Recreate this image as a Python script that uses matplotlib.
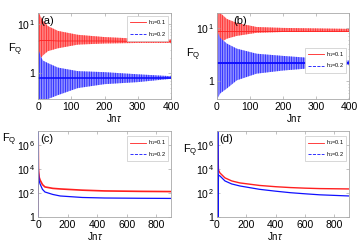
import numpy as np
import matplotlib
matplotlib.use("Agg")
import matplotlib.pyplot as plt

plt.rcParams['font.family'] = ['Liberation Sans', 'DejaVu Sans']
plt.rcParams['mathtext.fontset'] = 'custom'
plt.rcParams['mathtext.rm'] = 'Liberation Sans'
plt.rcParams['mathtext.it'] = 'Liberation Sans:italic'
plt.rcParams['hatch.linewidth'] = 0.5

# ---- (a) envelopes of the oscillating F_Q ----
t_a = [0, 3, 8, 15, 30, 60, 120, 200, 300, 400]
red_a_hi = [16.6, 16.6, 14, 11.5, 9.0, 7.2, 6.0, 5.4, 5.0, 4.8]
red_a_lo = [1.2, 1.6, 2.0, 2.3, 2.8, 3.2, 3.8, 4.0, 4.1, 4.1]
red_a_mid = [4.4, 4.5, 4.6, 4.6, 4.6, 4.5, 4.5, 4.5, 4.4, 4.4]
blue_a_hi = [0.3, 2.8, 2.2, 1.8, 1.6, 1.3, 1.1, 1.05, 0.95, 0.87]
blue_a_lo = [0.3, 0.3, 0.3, 0.3, 0.3, 0.36, 0.5, 0.6, 0.66, 0.77]
blue_a_mid = [0.8, 0.8, 0.8, 0.8, 0.8, 0.8, 0.8, 0.8, 0.8, 0.8]

# ---- (b) ----
t_b = [0, 3, 10, 30, 60, 120, 200, 300, 400]
red_b_hi = [19, 19, 19, 14.7, 12.4, 10.4, 10.0, 9.8, 9.6]
red_b_lo = [0.47, 4.0, 5.3, 6.3, 7.1, 8.1, 8.4, 8.4, 8.4]
red_b_mid = [8.8, 8.8, 8.8, 8.8, 8.8, 8.8, 8.8, 8.8, 8.8]
blue_b_hi = [0.47, 8.0, 6.5, 5.1, 4.1, 3.3, 3.0, 2.7, 2.45]
blue_b_lo = [0.47, 0.5, 0.6, 0.74, 1.05, 1.4, 1.6, 1.8, 2.05]
blue_b_mid = [2.25, 2.25, 2.25, 2.25, 2.25, 2.25, 2.25, 2.25, 2.25]

# ---- (c) long-time F_Q ----
t_c_red = [0.5, 1, 3, 8, 14, 30, 47, 100, 150, 300, 450, 700, 900]
red_c = [1.5, 1.5e7, 1e4, 2000, 1200, 500, 316, 240, 215, 170, 147, 135, 130]
t_c_blue = [0.5, 1, 3, 8, 14, 30, 47, 100, 150, 300, 450, 700, 900]
blue_c = [1.0, 1.5e7, 5e3, 1000, 560, 200, 120, 75, 56, 42, 38, 36, 35]

# ---- (d) ----
t_d_red = [0.5, 1, 5, 10, 20, 54, 100, 156, 290, 400, 500, 600, 700, 900]
red_d = [1.0, 1.5e7, 1e6, 8000, 4600, 1800, 1000, 680, 420, 330, 280, 250, 230, 215]
t_d_blue = [0.5, 1, 2, 3, 4, 5, 6, 10, 20, 54, 100, 156, 290, 400, 500, 600, 700, 900]
blue_d = [1.0, 1.5e7, 1.0, 1.5e7, 1.0, 1.5e7, 1.0, 3000, 2600, 1000, 560, 380, 200, 140,
          105, 85, 70, 56]

legend_labels = [r'h$_1$=0.1', r'h$_1$=0.2']

RED = '#ff2020'
BLUE = '#1010ff'
SPINE = '#a8a8a8'

fig = plt.figure(figsize=(3.57, 2.42), dpi=100)
W, H = 357, 242


def make_ax(l, r, t, b):
    return fig.add_axes([l / W, 1 - b / H, (r - l) / W, (b - t) / H])


def style(ax):
    ax.set_yscale('log')
    for s in ax.spines.values():
        s.set_color(SPINE)
        s.set_linewidth(0.6)
    ax.tick_params(direction='in', top=True, right=True, length=2, width=0.5,
                   color=SPINE, labelsize=7.5, pad=2)
    ax.tick_params(which='minor', direction='in', right=True, length=1,
                   width=0.4, color=SPINE)
    ax.tick_params(axis='y', which='minor', left=False)


def band(ax, t, lo, hi, mid, face, edge, lw_mid):
    ax.fill_between(t, lo, hi, facecolor=face, edgecolor=edge, hatch='|||||||',
                    lw=0)
    ax.plot(t, mid, color=edge, lw=lw_mid)


def add_legend(ax, loc, anchor):
    h1, = ax.plot([], [], color=RED, lw=0.6)
    h2, = ax.plot([], [], color=BLUE, lw=0.6, ls='--')
    leg = ax.legend([h1, h2], legend_labels, loc=loc, bbox_to_anchor=anchor,
                    fontsize=4, handlelength=3.0, handletextpad=0.3,
                    borderpad=0.4, labelspacing=0.5, fancybox=False,
                    framealpha=1)
    leg.get_frame().set_edgecolor('#c8c8c8')
    leg.get_frame().set_linewidth(0.5)


# (a)
ax = make_ax(38, 171, 13, 99)
style(ax)
band(ax, t_a, red_a_lo, red_a_hi, red_a_mid, '#ff8080', RED, 0.6)
band(ax, t_a, blue_a_lo, blue_a_hi, blue_a_mid, '#9090ff', BLUE, 1.2)
ax.set_xlim(0, 400)
ax.set_ylim(0.3, 16.6)
ax.set_xticks([0, 100, 200, 300, 400])
ax.set_yticks([1, 10])
ax.set_yticklabels(['1', r'10$^{\,1}$'])
add_legend(ax, 'upper right', (1.0, 1.0))
ax.text(0.02, 0.97, '(a)', transform=ax.transAxes, fontsize=8, va='top')

# (b)
ax = make_ax(217, 349, 13, 99)
style(ax)
band(ax, t_b, red_b_lo, red_b_hi, red_b_mid, '#ff8080', RED, 0.6)
band(ax, t_b, blue_b_lo, blue_b_hi, blue_b_mid, '#9090ff', BLUE, 1.4)
ax.set_xlim(0, 400)
ax.set_ylim(0.47, 19)
ax.set_xticks([0, 100, 200, 300, 400])
ax.set_yticks([1, 10])
ax.set_yticklabels(['1', r'10$^{\,1}$'])
add_legend(ax, 'upper right', (1.0, 0.63))
ax.text(0.12, 0.97, '(b)', transform=ax.transAxes, fontsize=8, va='top')

# (c)
ax = make_ax(38, 171, 131, 217)
style(ax)
ax.plot(t_c_red, red_c, color=RED, lw=1.2)
ax.plot(t_c_blue, blue_c, color=BLUE, lw=0.9)
ax.set_xlim(0, 900)
ax.set_ylim(1, 10 ** 7.15)
ax.set_xticks([0, 200, 400, 600, 800])
ax.set_yticks([1, 1e2, 1e4, 1e6])
ax.set_yticklabels(['1', r'10$^{\,2}$', r'10$^{\,4}$', r'10$^{\,6}$'])
add_legend(ax, 'upper right', (1.0, 0.97))
ax.text(0.02, 0.97, '(c)', transform=ax.transAxes, fontsize=8, va='top')

# (d)
ax = make_ax(217, 349, 131, 217)
style(ax)
ax.plot(t_d_red, red_d, color=RED, lw=1.0)
ax.plot(t_d_blue, blue_d, color=BLUE, lw=0.9)
ax.set_xlim(0, 900)
ax.set_ylim(1, 10 ** 7.15)
ax.set_xticks([0, 200, 400, 600, 800])
ax.set_yticks([1, 1e2, 1e4, 1e6])
ax.set_yticklabels(['1', r'10$^{\,2}$', r'10$^{\,4}$', r'10$^{\,6}$'])
add_legend(ax, 'upper right', (1.0, 0.97))
ax.text(0.02, 0.97, '(d)', transform=ax.transAxes, fontsize=8, va='top')

# axis labels placed like the original
for x, y in [(15, 50), (193, 55), (9, 140), (190, 151)]:
    fig.text(x / W, 1 - y / H, r'F$_{\rm Q}$', fontsize=8, ha='center', va='center')
for x, y in [(114, 118), (294, 118), (95, 236), (275, 236)]:
    fig.text(x / W, 1 - y / H, r'Jn$\tau$', fontsize=7, ha='center', va='center')

fig.savefig('out.png', dpi=100)
